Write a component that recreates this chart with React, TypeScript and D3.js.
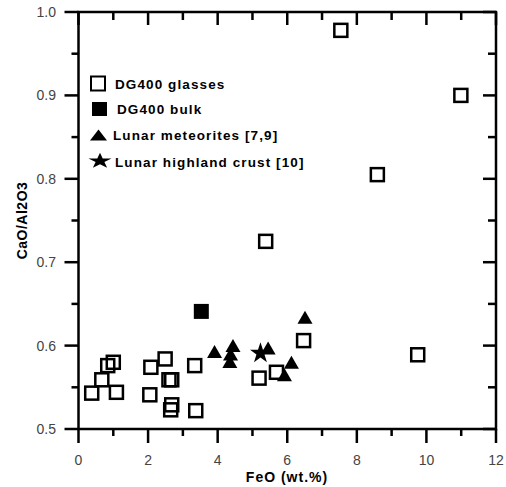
import React from 'react';
import * as d3 from 'd3';

// DG400 glasses
const glassFeO = [0.38, 0.67, 0.84, 1.0, 1.09, 2.05, 2.08, 2.49, 2.6, 2.68, 2.68, 2.65, 3.34, 3.37, 5.19, 5.69, 6.47, 5.38, 7.54, 8.59, 9.75, 10.99];
const glassRatio = [0.543, 0.559, 0.576, 0.58, 0.544, 0.541, 0.574, 0.584, 0.559, 0.559, 0.529, 0.523, 0.576, 0.522, 0.561, 0.568, 0.606, 0.725, 0.978, 0.805, 0.589, 0.9];
// DG400 bulk
const bulkFeO = [3.53];
const bulkRatio = [0.641];
// Lunar meteorites
const meteorFeO = [3.91, 4.44, 4.37, 4.35, 5.45, 5.92, 6.12, 6.51];
const meteorRatio = [0.593, 0.6, 0.59, 0.581, 0.597, 0.565, 0.58, 0.634];
// Lunar highland crust
const crustFeO = [5.23];
const crustRatio = [0.592];

const xMajor = [0, 2, 4, 6, 8, 10, 12];
const xMinor = [1, 3, 5, 7, 9, 11];
const yMajor = [0.5, 0.6, 0.7, 0.8, 0.9, 1.0];
const yMinor = [0.55, 0.65, 0.75, 0.85, 0.95];

const legendLabels = ['DG400 glasses', 'DG400 bulk', 'Lunar meteorites [7,9]', 'Lunar highland crust [10]'];

const x = d3.scaleLinear().domain([0, 12]).range([78.5, 496]);
const y = d3.scaleLinear().domain([0.5, 1.0]).range([429, 12]);

const tri = (w: number, h: number) => `M0,${-h / 2}L${w / 2},${h / 2}L${-w / 2},${h / 2}Z`;
const star = d3.symbol().type(d3.symbolStar).size(136)();

const font = 'Arial, "Liberation Sans", sans-serif';

export default function App() {
  const sq = 13;
  return (
    <svg width={506} height={487} style={{ position: 'absolute', left: 0, top: 0, background: '#fff' }}>
      <rect width={506} height={487} fill="#fff" />
      {/* frame */}
      <rect x={x(0)} y={y(1)} width={x(12) - x(0)} height={y(0.5) - y(1)} fill="none" stroke="#000" strokeWidth={2.5} />
      {/* bottom / top ticks */}
      {xMajor.map((v) => (
        <g key={'xm' + v}>
          <line x1={x(v)} x2={x(v)} y1={y(0.5)} y2={y(0.5) + 14} stroke="#000" strokeWidth={2.5} />
          <line x1={x(v)} x2={x(v)} y1={y(1)} y2={y(1) + 13} stroke="#000" strokeWidth={2.5} />
          <text x={x(v)} y={465} textAnchor="middle" fontFamily={font} fontSize={14} fill="#444">{v}</text>
        </g>
      ))}
      {xMinor.map((v) => (
        <g key={'xn' + v}>
          <line x1={x(v)} x2={x(v)} y1={y(0.5)} y2={y(0.5) + 7} stroke="#000" strokeWidth={2.5} />
          <line x1={x(v)} x2={x(v)} y1={y(1)} y2={y(1) + 8} stroke="#000" strokeWidth={2.5} />
        </g>
      ))}
      {/* left / right ticks */}
      {yMajor.map((v) => (
        <g key={'ym' + v}>
          <line x1={x(0) - 14} x2={x(0)} y1={y(v)} y2={y(v)} stroke="#000" strokeWidth={2.5} />
          <line x1={x(12) - 13} x2={x(12)} y1={y(v)} y2={y(v)} stroke="#000" strokeWidth={2.5} />
          <text x={56} y={y(v)} dy="0.35em" textAnchor="end" fontFamily={font} fontSize={14} fill="#444">{v.toFixed(1)}</text>
        </g>
      ))}
      {yMinor.map((v) => (
        <g key={'yn' + v}>
          <line x1={x(0) - 7} x2={x(0)} y1={y(v)} y2={y(v)} stroke="#000" strokeWidth={2.5} />
          <line x1={x(12) - 8} x2={x(12)} y1={y(v)} y2={y(v)} stroke="#000" strokeWidth={2.5} />
        </g>
      ))}
      {/* axis titles */}
      <text x={287} y={482} textAnchor="middle" fontFamily={font} fontSize={14} fontWeight="bold" letterSpacing={1}>FeO (wt.%)</text>
      <text transform={`translate(27,${(y(0.5) + y(1)) / 2}) rotate(-90)`} textAnchor="middle" fontFamily={font} fontSize={14} fontWeight="bold" letterSpacing={0.5}>CaO/Al2O3</text>
      {/* data */}
      {glassFeO.map((v, i) => (
        <rect key={'g' + i} x={x(v) - sq / 2} y={y(glassRatio[i]) - sq / 2} width={sq} height={sq} fill="none" stroke="#000" strokeWidth={2.5} />
      ))}
      {bulkFeO.map((v, i) => (
        <rect key={'b' + i} x={x(v) - 7.5} y={y(bulkRatio[i]) - 7.5} width={15} height={15} fill="#000" />
      ))}
      {meteorFeO.map((v, i) => (
        <path key={'m' + i} d={tri(15, 13)} transform={`translate(${x(v)},${y(meteorRatio[i])})`} fill="#000" />
      ))}
      {crustFeO.map((v, i) => (
        <path key={'c' + i} d={star ?? ''} transform={`translate(${x(v)},${y(crustRatio[i]) + 1})`} fill="#000" />
      ))}
      {/* legend */}
      <rect x={91} y={76.5} width={14} height={14} fill="none" stroke="#000" strokeWidth={2} />
      <rect x={92} y={102} width={15} height={14} fill="#000" />
      <path d={tri(17, 11)} transform="translate(98.5,135)" fill="#000" />
      <path d={star ?? ''} transform="translate(100,161) scale(1.1,0.75)" fill="#000" />
      {legendLabels.map((t, i) => (
        <text key={t} x={[115, 117, 113, 115][i]} y={[89, 114, 140, 167][i]} fontFamily={font} fontSize={13.5} fontWeight="bold" letterSpacing={1.1}>{t}</text>
      ))}
    </svg>
  );
}
